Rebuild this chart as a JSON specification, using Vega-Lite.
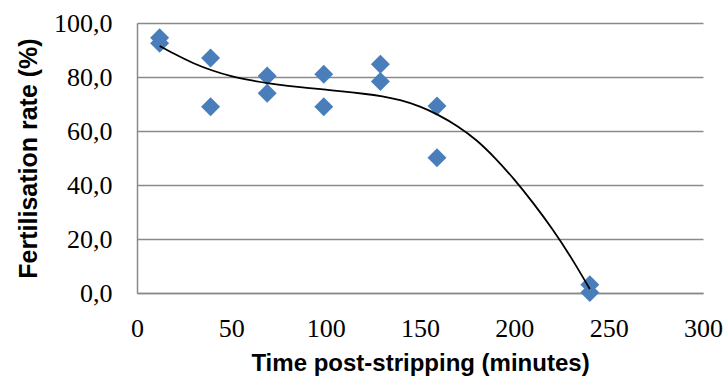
{
  "$schema": "https://vega.github.io/schema/vega-lite/v6.json",
  "width": 566,
  "height": 270,
  "autosize": "none",
  "padding": {"left": 137, "top": 23, "right": 23, "bottom": 87},
  "background": "white",
  "config": {"view": {"stroke": null}},
  "datasets": {
    "points": [
      {"time": 12, "rate": 94.5}, {"time": 12, "rate": 92.5},
      {"time": 39, "rate": 87}, {"time": 39, "rate": 69},
      {"time": 69, "rate": 80.4}, {"time": 69, "rate": 74},
      {"time": 99, "rate": 81}, {"time": 99, "rate": 69},
      {"time": 129, "rate": 84.7}, {"time": 129, "rate": 78.3},
      {"time": 159, "rate": 69.3}, {"time": 159, "rate": 50.1},
      {"time": 240, "rate": 3.1}, {"time": 240, "rate": 0.2}
    ],
    "trend": [
      {"time": 12, "rate": 91.5}, {"time": 20, "rate": 88.5}, {"time": 30, "rate": 85.1},
      {"time": 40, "rate": 82.4}, {"time": 50, "rate": 80.3}, {"time": 60, "rate": 78.8},
      {"time": 70, "rate": 77.6}, {"time": 80, "rate": 76.7}, {"time": 90, "rate": 76.0},
      {"time": 100, "rate": 75.3}, {"time": 110, "rate": 74.6}, {"time": 120, "rate": 73.8},
      {"time": 130, "rate": 72.8}, {"time": 140, "rate": 71.3}, {"time": 150, "rate": 69.0},
      {"time": 160, "rate": 65.8}, {"time": 170, "rate": 61.7}, {"time": 180, "rate": 56.5},
      {"time": 190, "rate": 49.8}, {"time": 200, "rate": 42.0}, {"time": 210, "rate": 33.3},
      {"time": 220, "rate": 23.8}, {"time": 230, "rate": 13.2}, {"time": 240, "rate": 1.5}
    ]
  },
  "encoding": {
    "x": {
      "field": "time", "type": "quantitative",
      "scale": {"domain": [0, 300], "nice": false, "zero": false},
      "axis": {
        "title": "Time post-stripping (minutes)",
        "values": [0, 50, 100, 150, 200, 250, 300],
        "grid": false, "ticks": false,
        "domainColor": "#8a8a8a", "domainWidth": 1.5,
        "labelFont": "Liberation Serif, serif", "labelFontSize": 26, "labelColor": "black",
        "labelPadding": 22, "labelFlush": false,
        "titleFont": "Liberation Sans", "titleFontSize": 24, "titleFontWeight": "bold",
        "titleColor": "black", "titlePadding": 10
      }
    },
    "y": {
      "field": "rate", "type": "quantitative",
      "scale": {"domain": [0, 100], "nice": false},
      "axis": {
        "title": "Fertilisation rate (%)",
        "values": [0, 20, 40, 60, 80, 100],
        "labelExpr": "replace(format(datum.value, '.1f'), '.', ',')",
        "grid": true, "gridColor": "#8a8a8a", "gridWidth": 1.5,
        "ticks": false,
        "domainColor": "#8a8a8a", "domainWidth": 1.5,
        "labelFont": "Liberation Serif, serif", "labelFontSize": 26, "labelColor": "black",
        "labelPadding": 25,
        "titleFont": "Liberation Sans", "titleFontSize": 25, "titleFontWeight": "bold",
        "titleColor": "black", "titlePadding": 12
      }
    }
  },
  "layer": [
    {
      "data": {"name": "points"},
      "mark": {"type": "point", "shape": "diamond", "filled": true, "size": 360, "color": "#4A7EBB", "opacity": 1}
    },
    {
      "data": {"name": "trend"},
      "mark": {"type": "line", "color": "black", "strokeWidth": 1.8, "interpolate": "natural"}
    }
  ]
}
